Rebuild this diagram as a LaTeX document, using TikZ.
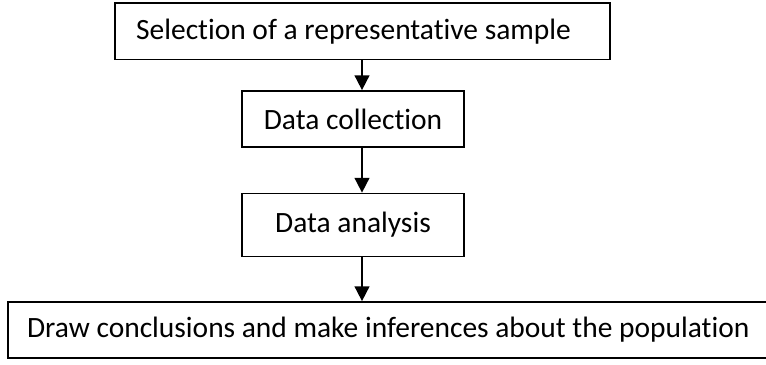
\documentclass[tikz,border=0pt]{standalone}
\usepackage{fontspec}
\setmainfont{Carlito}[Ligatures=NoCommon]
\usetikzlibrary{arrows.meta}

\tikzset{every picture/.style={line width=1.3pt}}
\tikzset{
  stepbox/.style={draw, rectangle, inner sep=0pt, minimum height=42pt},
  steptext/.style={inner sep=0.75pt, font=\fontsize{22.1}{26}\selectfont},
  flowarrow/.style={-{Triangle[width=11pt,length=11pt]}}
}

\begin{document}
\begin{tikzpicture}[x=0.75pt,y=0.75pt,yscale=-1,xscale=1]
\useasboundingbox (0,0) rectangle (766,364);

%Shape: Rectangle [sample]
\node [stepbox, minimum width=371.25pt, minimum height=42.4pt] (sel) at (362.5,31.2) {};
%Shape: Rectangle [collection]
\node [stepbox, minimum width=166.5pt] (coll) at (353,119) {};
%Shape: Rectangle [analysis]
\node [stepbox, minimum width=166.5pt, minimum height=47.25pt] (anal) at (353,225) {};
%Shape: Rectangle [conclusions]
\node [stepbox, minimum width=570pt] (concl) at (388.3,330) {};

% Text Node
\node [steptext] (seltext) at (353.5,31.5) {Selection of a representative sample};
% Text Node
\node [steptext] (colltext) at (coll) {Data collection};
% Text Node
\node [steptext] (analtext) at (anal) {Data analysis};
% Text Node
\node [steptext] (concltext) at (concl) {Draw conclusions and make inferences about the population};

% arrows all run down the same vertical
\coordinate (axis) at (362,0);
\draw [flowarrow] (sel.south -| axis) -- (coll.north -| axis);
\draw [flowarrow] (coll.south -| axis) -- (anal.north -| axis);
\draw [flowarrow] (anal.south -| axis) -- (concl.north -| axis);

\end{tikzpicture}
\end{document}
